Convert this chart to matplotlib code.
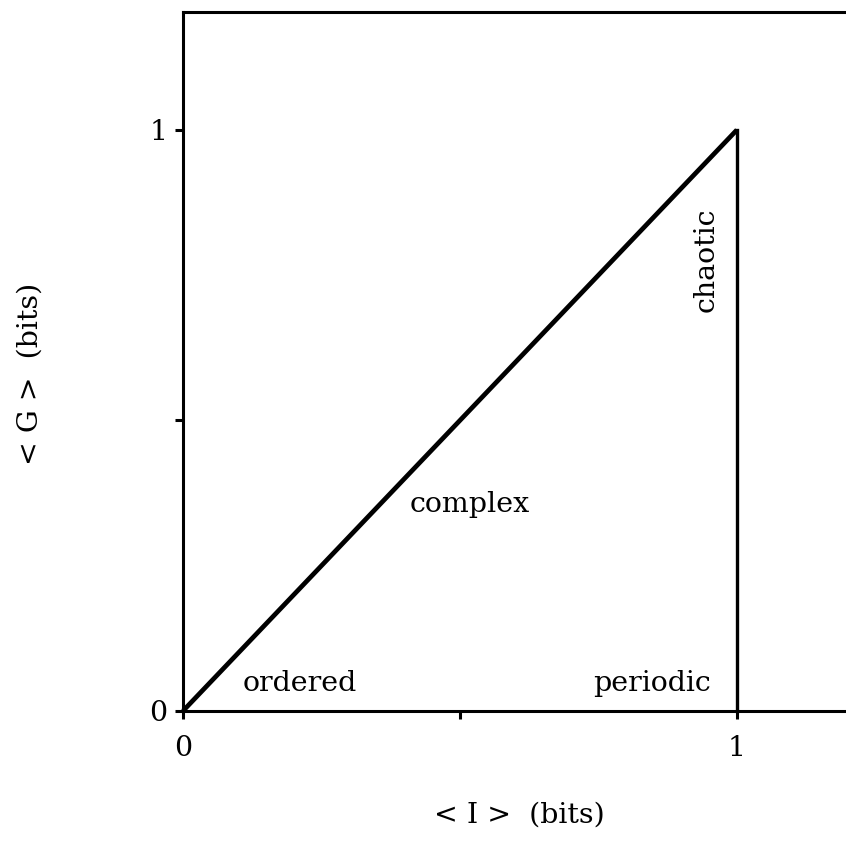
import matplotlib
matplotlib.use("Agg")
import matplotlib.pyplot as plt

# boundary of the complexity region: diagonal G = I, then straight down at I = 1
line_i = [0, 1, 1]
line_g = [0, 1, 0]

x_ticks = [0, 0.5, 1]
x_tick_labels = ["0", "", "1"]
y_ticks = [0, 0.5, 1]
y_tick_labels = ["0", "", "1"]

region_names = ["ordered", "periodic", "complex", "chaotic"]
region_i = [0.211, 0.847, 0.518, 0.944]
region_g = [0.048, 0.048, 0.355, 0.776]
region_rot = [0, 0, 0, 90]

plt.rcParams['font.family'] = ['DejaVu Serif']

fig = plt.figure(figsize=(8.46, 8.60), dpi=100)
ax = fig.add_axes([0.2163, 0.1733, 0.7837, 0.8128])

# diagonal is drawn a bit heavier than the drop at I = 1
ax.plot(line_i[:2], line_g[:2], color="black", lw=3.4, solid_capstyle="butt", clip_on=False)
ax.plot(line_i[1:], line_g[1:], color="black", lw=2.4, clip_on=False)

for name, xi, yi, r in zip(region_names, region_i, region_g, region_rot):
    ax.text(xi, yi, name, rotation=r, ha="center", va="center", fontsize=20.5)

ax.set_xlim(0, 1.197)
ax.set_ylim(0, 1.203)
ax.set_xticks(x_ticks)
ax.set_xticklabels(x_tick_labels)
ax.set_yticks(y_ticks)
ax.set_yticklabels(y_tick_labels)
ax.tick_params(direction="out", length=6, width=2.2, labelsize=20.5)
ax.tick_params(axis="x", pad=11)
ax.tick_params(axis="y", pad=5)

ax.spines["right"].set_visible(False)
for s in ["left", "top", "bottom"]:
    ax.spines[s].set_linewidth(2.2)

fig.text(0.614, 0.052, "< I >  (bits)", ha="center", va="center", fontsize=20.5)
fig.text(0.036, 0.565, "< G >  (bits)", ha="center", va="center", rotation=90, fontsize=20.5)

fig.savefig("out.png", dpi=100)
